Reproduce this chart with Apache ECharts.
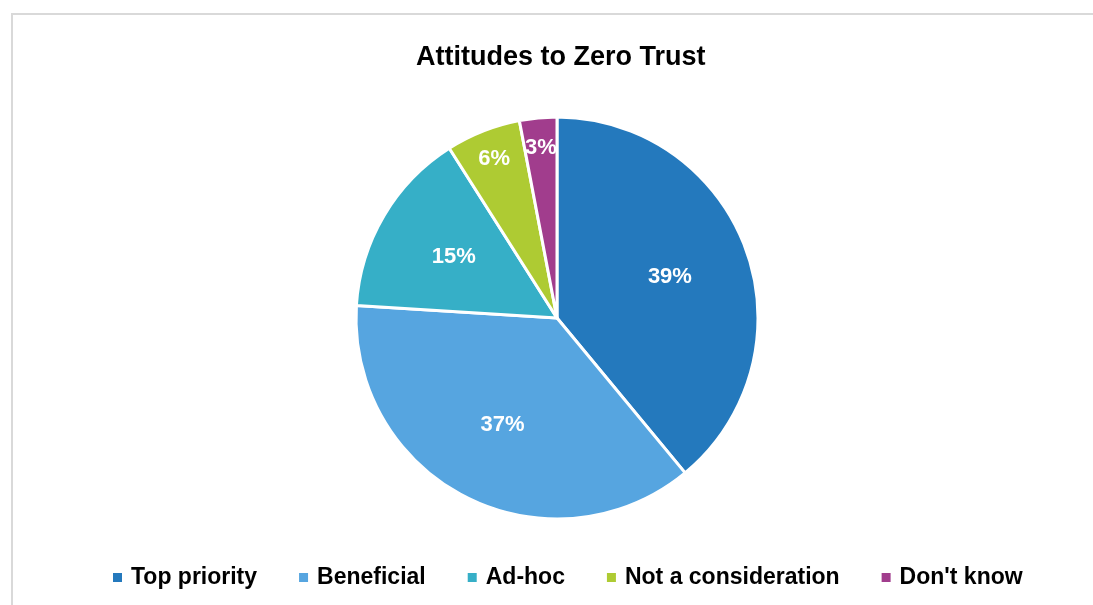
<!DOCTYPE html>
<html><head><meta charset="utf-8">
<script src="https://cdn.jsdelivr.net/npm/echarts@6/dist/echarts.min.js"></script>
<style>html,body{margin:0;padding:0;background:#fff}#c{width:1093px;height:605px}</style>
</head><body><div id="c"></div>
<script>
const categories = ['Top priority', 'Beneficial', 'Ad-hoc', 'Not a consideration', "Don't know"];
const values = [39, 37, 15, 6, 3];
const colors = ['#2479BD', '#56A5E0', '#36AFC7', '#AECB33', '#A13D8D'];
const titleText = 'Attitudes to Zero Trust';

const data = categories.map((n, i) => ({ name: n, value: values[i], itemStyle: { color: colors[i] } }));
const FONT = 'Liberation Sans, Arial, sans-serif';
function labelData(big) {
  return categories.map((n, i) => ({
    name: n, value: values[i],
    label: { show: big ? values[i] >= 10 : values[i] < 10 }
  }));
}
const labelStyle = {
  position: 'inside', formatter: '{d}%', color: '#fff', fontSize: 22, fontWeight: 'bold', fontFamily: FONT
};
const chart = echarts.init(document.getElementById('c'), null, { renderer: 'canvas' });
chart.setOption({
  animation: false,
  backgroundColor: '#fff',
  graphic: [{ type: 'rect', shape: { x: 12, y: 14, width: 1200, height: 700 }, style: { fill: 'none', stroke: '#D9D9D9', lineWidth: 2 }, silent: true }],
  title: { text: titleText, left: 411, top: 39, textStyle: { fontFamily: FONT, fontSize: 27, fontWeight: 'bold', color: '#000' } },
  legend: {
    bottom: 11, left: 106, itemWidth: 11, itemHeight: 11, itemGap: 40, icon: 'rect',
    data: categories,
    textStyle: { fontFamily: FONT, fontSize: 23, fontWeight: 'bold', color: '#000', padding: [0, 0, 0, 3] }
  },
  series: [
    { type: 'pie', center: [557, 318], radius: 201, startAngle: 90, clockwise: true, data: data,
      itemStyle: { borderColor: '#fff', borderWidth: 3 }, label: { show: false }, labelLine: { show: false }, silent: true },
    { type: 'pie', center: [557, 318], radius: [0, 234], startAngle: 90, clockwise: true, data: labelData(true),
      itemStyle: { color: 'rgba(0,0,0,0)' }, label: labelStyle, labelLine: { show: false }, silent: true, legendHoverLink: false },
    { type: 'pie', center: [557, 318], radius: [130, 206], startAngle: 90, clockwise: true, data: labelData(false),
      itemStyle: { color: 'rgba(0,0,0,0)' }, label: labelStyle, labelLine: { show: false }, silent: true, legendHoverLink: false }
  ]
});
</script></body></html>
